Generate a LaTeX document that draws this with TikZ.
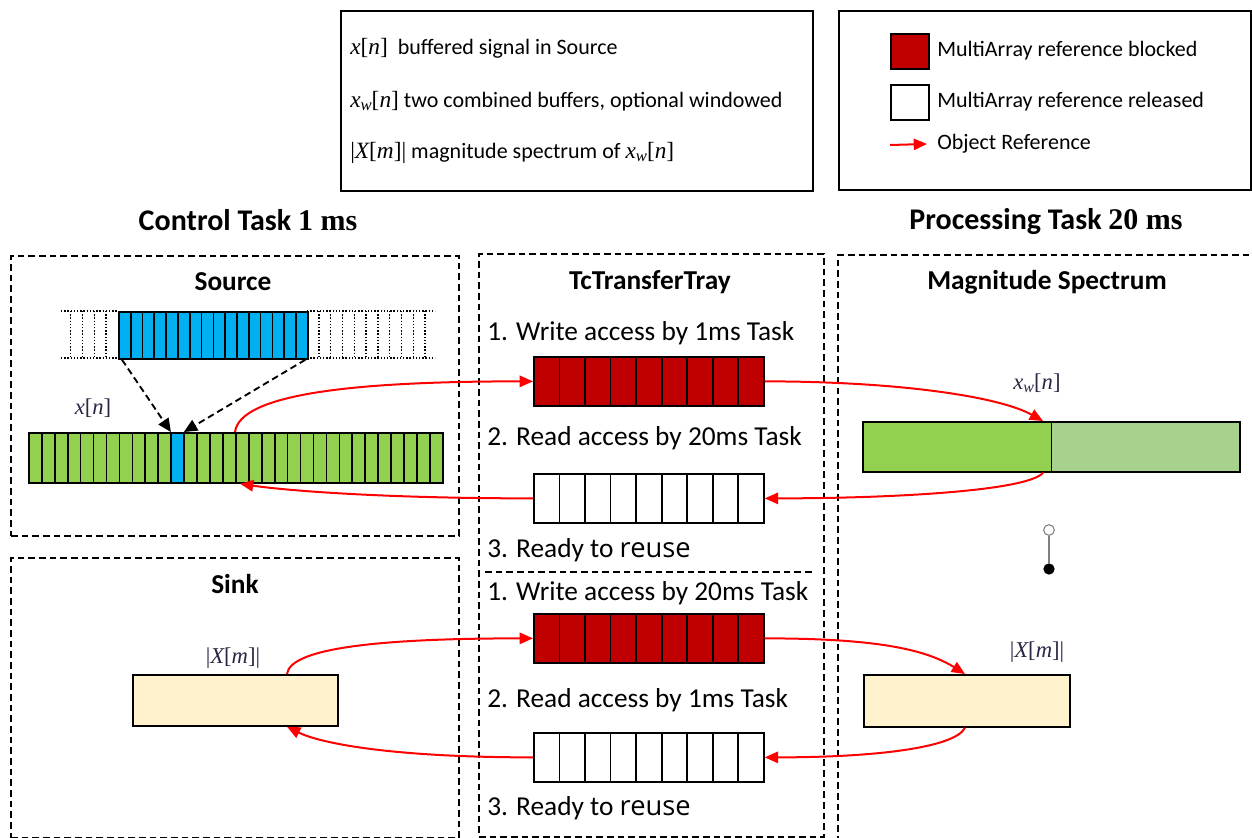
\documentclass[tikz,border=0pt]{standalone}
\usepackage{fontspec}
\setmainfont{Carlito}
\newfontfamily\mfont{Liberation Serif}
\newfontfamily\rfont{Open Sans}
\newcommand\mi[1]{{\mfont\itshape #1}}
\newcommand\mr[1]{{\mfont #1}}
\usetikzlibrary{arrows.meta,calc}
\definecolor{dred}{RGB}{192,0,0}
\definecolor{sblue}{RGB}{0,176,240}
\definecolor{sgreen}{RGB}{146,208,80}
\definecolor{lgreen}{RGB}{169,209,142}
\definecolor{lyellow}{RGB}{255,242,204}
\definecolor{mcol}{RGB}{40,40,70}
\begin{document}
\begin{tikzpicture}[x=0.75pt,y=-0.75pt,
  panel/.style={draw, line width=1.4pt, dash pattern=on 5pt off 3pt, inner sep=0, anchor=north west},
  lgbox/.style={draw, line width=1.5pt, inner sep=0, anchor=north west},
  buf/.style={draw, line width=1.3pt, inner sep=0, anchor=north west},
  cells/.style 2 args={path picture={#2
    \pgfmathtruncatemacro\nlast{#1-1}
    \foreach \i in {1,...,\nlast}
      \draw[line width=1.3pt] ($(path picture bounding box.north west)!\i/#1!(path picture bounding box.north east)$) -- ($(path picture bounding box.south west)!\i/#1!(path picture bounding box.south east)$);
  }},
  trbuf/.style={buf, minimum width=172.5pt, minimum height=36.75pt, cells={9}{}},
  refarrow/.style={red, line width=1.5pt, -{Triangle[length=10pt,width=8.5pt]}},
  dasharrow/.style={black, line width=1.4pt, dash pattern=on 5pt off 3pt, -{Triangle[length=10pt,width=9pt]}},
  dotline/.style={line width=1.1pt, dash pattern=on 1.1pt off 1.3pt},
  sepline/.style={line width=1.4pt, dash pattern=on 5pt off 3pt},
  bigtitle/.style={font=\fontsize{22.5}{26}\selectfont\bfseries, inner sep=0},
  ptitle/.style={font=\fontsize{20.5}{24}\selectfont\bfseries, inner sep=0},
  trtext/.style={font=\fontsize{20.5}{24}\selectfont, anchor=west, inner sep=0},
  lgtext/.style={font=\fontsize{16.5}{20}\selectfont, anchor=west, inner sep=0},
  mlabel/.style={font=\fontsize{17}{20}\selectfont, inner sep=0, text=mcol},
]
\useasboundingbox (0,0) rectangle (1252,838);

% legends
\node[lgbox, minimum width=354pt, minimum height=135pt] (leg1) at (340,10) {};
\node[lgtext] (l1) at (350,48) {{\fontsize{17.5}{20}\selectfont\mi{x}\mr{[}\mi{n}\mr{]}}\ \ buffered signal in Source};
\node[lgtext] (l2) at (350,101) {{\fontsize{17.5}{20}\selectfont\mi{x}\raisebox{-0.3ex}{\fontsize{12.5}{14}\selectfont\mi{w}}\mr{[}\mi{n}\mr{]}} two combined buffers, optional windowed};
\node[lgtext] (l3) at (350,153) {{\fontsize{17.5}{20}\selectfont\mr{|}\mi{X}\mr{[}\mi{m}\mr{]|}} magnitude spectrum of {\fontsize{17.5}{20}\selectfont\mi{x}\raisebox{-0.3ex}{\fontsize{12.5}{14}\selectfont\mi{w}}\mr{[}\mi{n}\mr{]}}};

\node[lgbox, minimum width=309pt, minimum height=134.25pt] (leg2) at (838,10) {};
\node[buf, fill=dred, minimum width=28.5pt, minimum height=26.25pt] (sqb) at (890,33) {};
\node[lgtext] (tb) at (937,51) {MultiArray reference blocked};
\node[buf, fill=white, minimum width=28.5pt, minimum height=26.25pt] (sqr) at (890,84) {};
\node[lgtext] (tr) at (937,102) {MultiArray reference released};
\node[lgtext] (tor) at (937,144) {Object Reference};
\coordinate (oa) at (890,145);
\draw[refarrow] (oa) -- ([xshift=-7.5pt]tor.west);

% titles
\node[bigtitle] (ct) at (248,220) {Control Task {\mfont\bfseries 1 ms}};
\node[bigtitle] (pt) at (1046,222) {Processing Task {\mfont\bfseries 20 ms}};

% panels
\node[panel, minimum width=336pt, minimum height=210pt] (srcp) at (10,255) {};
\node[panel, minimum width=258.75pt, minimum height=437.25pt] (trayp) at (478,253) {};
\node[panel, minimum width=322.5pt, minimum height=439.5pt] (magp) at (837,254) {};
\node[panel, minimum width=336pt, minimum height=210pt] (sinkp) at (10,557) {};
\draw[sepline] (485,572) -- (812,572);

\node[ptitle] (tsrc) at (233,282) {Source};
\node[ptitle] (ttray) at (650,282) {TcTransferTray};
\node[ptitle] (tmag) at (1047,282) {Magnitude Spectrum};
\node[ptitle] (tsink) at (235,584) {Sink};

% source
\draw[dotline] (61,311) -- (118,311);
\draw[dotline] (61,358) -- (118,358);
\draw[dotline] (307,311) -- (435,311);
\draw[dotline] (307,358) -- (435,358);
\foreach \k in {1,...,4} \draw[dotline] ({118-11.81*\k},311) -- ({118-11.81*\k},358);
\foreach \k in {1,...,10} \draw[dotline] ({307+11.81*\k},311) -- ({307+11.81*\k},358);
\node[buf, fill=sblue, minimum width=141.75pt, minimum height=35.25pt, cells={16}{}] (blue) at (118,311) {};

\node[buf, fill=sgreen, minimum width=310.5pt, minimum height=37.5pt,
  cells={32}{\fill[sblue] ($(path picture bounding box.north west)!11/32!(path picture bounding box.north east)$) rectangle ($(path picture bounding box.south west)!12/32!(path picture bounding box.south east)$);}] (green) at (28,432) {};
\node[mlabel] (xn) at (93,408) {\mi{x}\mr{[}\mi{n}\mr{]}};

\draw[dasharrow] ([xshift=3pt]blue.south west) -- ($(green.north west)!11/32!(green.north east)$);
\draw[dasharrow] ([xshift=-2.5pt]blue.south east) -- ($(green.north west)!12/32!(green.north east)$);

% tray
\node[trtext] (w1) at (487,333) {1. Write access by 1ms Task};
\node[trbuf, fill=dred] (red1) at (533,356) {};
\node[trtext] (r1) at (487,438) {2. Read access by 20ms Task};
\node[trbuf, fill=white] (white1) at (533,473) {};
\node[trtext] (u1) at (487,550) {3. Ready to {\rfont reuse}};

\node[trtext] (w2) at (487,593) {1. Write access by 20ms Task};
\node[trbuf, fill=dred] (red2) at (533,613) {};
\node[trtext] (r2) at (487,700) {2. Read access by 1ms Task};
\node[trbuf, fill=white] (white2) at (533,732) {};
\node[trtext] (u2) at (487,808) {3. Ready to {\rfont reuse}};

% magnitude
\node[buf, fill=lgreen, minimum width=282.75pt, minimum height=37.5pt,
  cells={2}{\fill[sgreen] (path picture bounding box.north west) rectangle ($(path picture bounding box.south west)!0.5!(path picture bounding box.south east)$);}] (mg) at (862,421) {};
\node[mlabel] (xw) at (1037,383) {\mi{x}\raisebox{-0.3ex}{\fontsize{12}{14}\selectfont\mi{w}}\mr{[}\mi{n}\mr{]}};

\node[circle, draw=gray, fill=white, line width=0.8pt, minimum size=8pt, inner sep=0] (lo) at (1049,530) {};
\node[circle, fill=black, minimum size=8.5pt, inner sep=0] (lf) at (1049,569) {};
\draw[gray, line width=0.8pt] (lo) -- (lf);

\node[buf, fill=lyellow, minimum width=154.5pt, minimum height=39pt] (my) at (863,674) {};
\node[mlabel] (xm2) at (1037,652) {\mr{|}\mi{X}\mr{[}\mi{m}\mr{]|}};

% sink
\node[buf, fill=lyellow, minimum width=153.75pt, minimum height=38.25pt] (sy) at (132,674) {};
\node[mlabel] (xm1) at (233,658) {\mr{|}\mi{X}\mr{[}\mi{m}\mr{]|}};

% object reference arrows
\draw[refarrow] ([xshift=155.25pt]green.north west) .. controls +(5,-38) and +(-180,0) .. (red1.west);
\draw[refarrow] (red1.east) .. controls +(130,0) and +(-45,-25) .. ([xshift=135.75pt]mg.north west);
\draw[refarrow] ([xshift=135.75pt]mg.south west) .. controls +(-15,18) and +(130,0) .. (white1.east);
\draw[refarrow] (white1.west) .. controls +(-160,0) and +(40,6) .. ([xshift=159pt]green.south west);

\draw[refarrow] ([xshift=116.25pt]sy.north west) .. controls +(3,-25) and +(-160,0) .. (red2.west);
\draw[refarrow] (red2.east) .. controls +(110,0) and +(-40,-25) .. ([xshift=76.5pt]my.north west);
\draw[refarrow] ([xshift=76.5pt]my.south west) .. controls +(-10,20) and +(110,0) .. (white2.east);
\draw[refarrow] (white2.west) .. controls +(-150,0) and +(30,15) .. ([xshift=116.25pt]sy.south west);
\end{tikzpicture}
\end{document}
